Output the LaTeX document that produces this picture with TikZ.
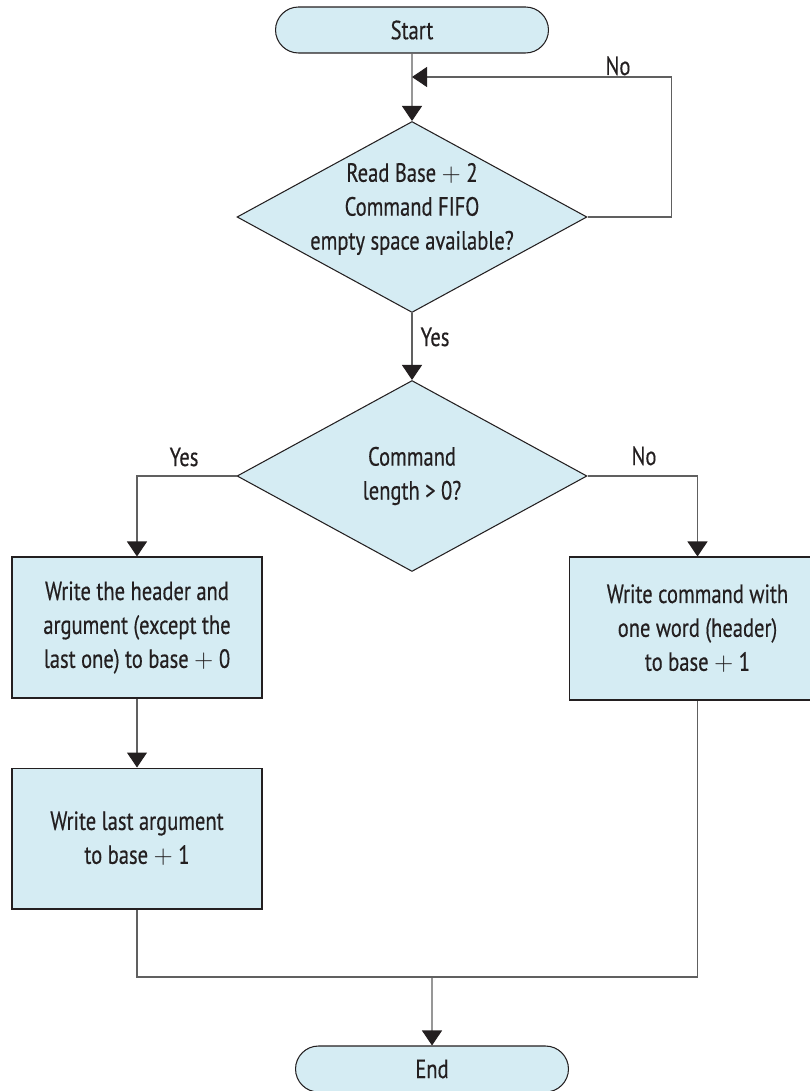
\documentclass[tikz,border=0pt]{standalone}
\usepackage{fontspec}
\setmainfont{PT Sans}[FakeStretch=0.78, FakeBold=0.4]
\usetikzlibrary{shapes.geometric,shapes.misc,arrows.meta,positioning}
\definecolor{boxblue}{HTML}{D5ECF3}
\definecolor{ink}{HTML}{231F20}
\definecolor{wire}{HTML}{606060}

\begin{document}
\begin{tikzpicture}[x=0.02cm, y=-0.02cm,
        every node/.style={font=\fontsize{15}{19.3}\selectfont, text=ink},
        terminal/.style={rounded rectangle, draw=ink, fill=boxblue, line width=0.6pt, minimum width=5.46cm, minimum height=0.92cm, inner sep=0pt},
        decision/.style={diamond, draw=ink, fill=boxblue, line width=0.6pt, minimum width=7cm, minimum height=3.82cm, inner sep=0pt},
        process/.style={rectangle, draw=ink, fill=boxblue, line width=0.6pt, minimum width=5cm, minimum height=2.82cm, align=center, inner sep=0pt},
        line/.style={draw=wire, line width=0.6pt},
        arr/.style={line, -{Triangle[width=0.4cm, length=0.3cm, color=ink]}}
    ]
    \useasboundingbox (0,0) rectangle (810,1091);

    % flow boxes
    \node[terminal] (start) at (412,30) {Start};
    \node[decision, label={[align=center, yshift=0.16cm]center:Read Base $+$ 2\\Command FIFO\\empty space available?}] (d1) at (412,217) {};
    \node[decision, label={[align=center]center:Command\\length > 0?}] (d2) at (412,476) {};
    \node[process] (write0) at (137,627.5) {Write the header and\\argument (except the\\last one) to base $+$ 0};
    \node[process, below=1.38cm of write0] (write1) {Write last argument\\to base $+$ 1};
    \node[process, minimum width=5.14cm, minimum height=2.86cm] (write2) at (697.5,628.5) {Write command with\\one word (header)\\to base $+$ 1};
    \node[terminal] (end) at (432,1069) {End};

    \coordinate (loop) at (412,77);
    \coordinate (join) at (432,977);

    % connectors
    \draw[arr] (start) -- (d1);
    \draw[arr] (d1.east) -- ++(84,0) |- (loop);
    \draw[arr] (d1) -- (d2);
    \draw[arr] (d2.west) -| (write0.north);
    \draw[arr] (d2.east) -| (write2.north);
    \draw[arr] (write0) -- (write1);
    \draw[line] (write1.south) -- (write1.south |- join) -- (write2.south |- join) -- (write2.south);
    \draw[arr] (join) -- (end);

    % branch labels
    \node[anchor=base] (noloop) at (618,75) {No};
    \node[anchor=base] (yesmid) at (435,346) {Yes};
    \node[anchor=base] (yesleft) at (184,466) {Yes};
    \node[anchor=base] (noright) at (644,465) {No};
\end{tikzpicture}
\end{document}
